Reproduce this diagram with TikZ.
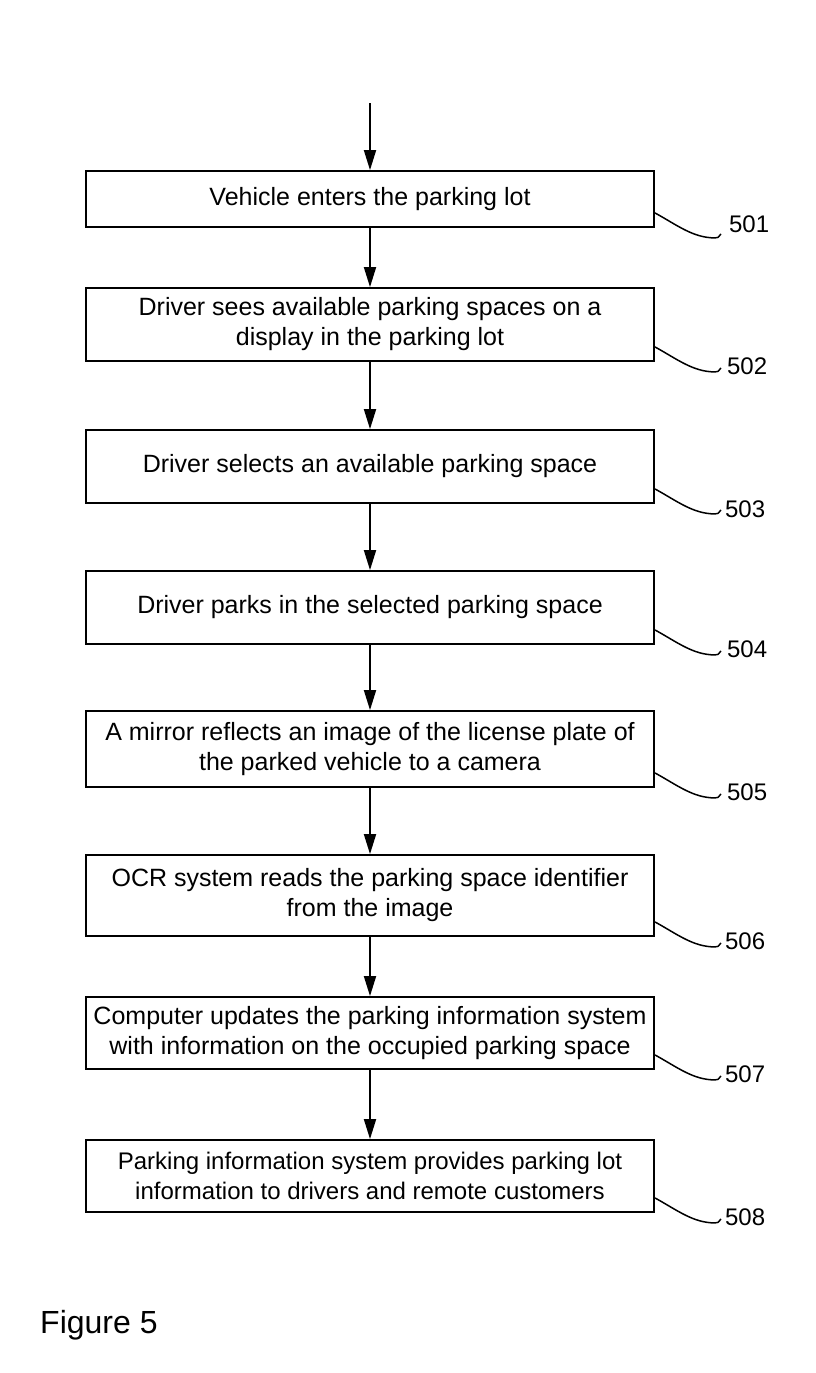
\documentclass[tikz,border=0pt]{standalone}
\usepackage{fontspec}
\setmainfont{Liberation Sans}
\usetikzlibrary{arrows.meta}
\begin{document}
\begin{tikzpicture}[x=1pt,y=-1pt,
 stepbox/.style={draw, line width=1.8pt, minimum width=568pt, align=center, font=\fontsize{25}{30}\selectfont, inner sep=0pt},
 flow/.style={draw, line width=1.8pt, -{Triangle[length=20pt,width=12pt]}},
 lead/.style={draw, line width=1.5pt},
 reflabel/.style={anchor=west, font=\fontsize{24}{28}\selectfont, inner sep=0pt}]
\useasboundingbox (0,0) rectangle (816,1373);
\coordinate (top) at (370,103);
\node[stepbox, minimum height=56pt] (b1) at (370,199) {Vehicle enters the parking lot};
\node[stepbox, minimum height=73pt] (b2) at (370,324.5) {Driver sees available parking spaces on a\\display in the parking lot};
\node[stepbox, minimum height=73pt] (b3) at (370,466.5) {Driver selects an available parking space};
\node[stepbox, minimum height=73pt] (b4) at (370,607.5) {Driver parks in the selected parking space};
\node[stepbox, minimum height=76pt] (b5) at (370,749) {A mirror reflects an image of the license plate of\\the parked vehicle to a camera};
\node[stepbox, minimum height=81pt] (b6) at (370,895.5) {OCR system reads the parking space identifier\\from the image};
\node[stepbox, minimum height=72pt] (b7) at (370,1033) {Computer updates the parking information system\\with information on the occupied parking space};
\node[stepbox, minimum height=72pt, font=\fontsize{24}{30}\selectfont] (b8) at (370,1176) {Parking information system provides parking lot\\information to drivers and remote customers};
\draw[flow] (top) -- (b1);
\draw[flow] (b1) -- (b2);
\draw[flow] (b2) -- (b3);
\draw[flow] (b3) -- (b4);
\draw[flow] (b4) -- (b5);
\draw[flow] (b5) -- (b6);
\draw[flow] (b6) -- (b7);
\draw[flow] (b7) -- (b8);
\foreach \b/\n/\dx/\dy in {b1/501/74/4, b2/502/72/-4, b3/503/70/-5, b4/504/72/-4, b5/505/72/-4, b6/506/70/-4, b7/507/70/-4, b8/508/70/-4}{
  \draw[lead] ([yshift=15pt]\b.south east) .. controls +(22,12) and +(-22,0) .. ++(60,25) .. controls +(3,0) .. +(6,-4);
  \node[reflabel] (l\n) at ([xshift=\dx pt, yshift=\dy pt]\b.south east) {\n};
}
\node[anchor=west, inner sep=0pt, font=\fontsize{32}{36}\selectfont] (fig) at (40,1325) {Figure 5};
\end{tikzpicture}
\end{document}
